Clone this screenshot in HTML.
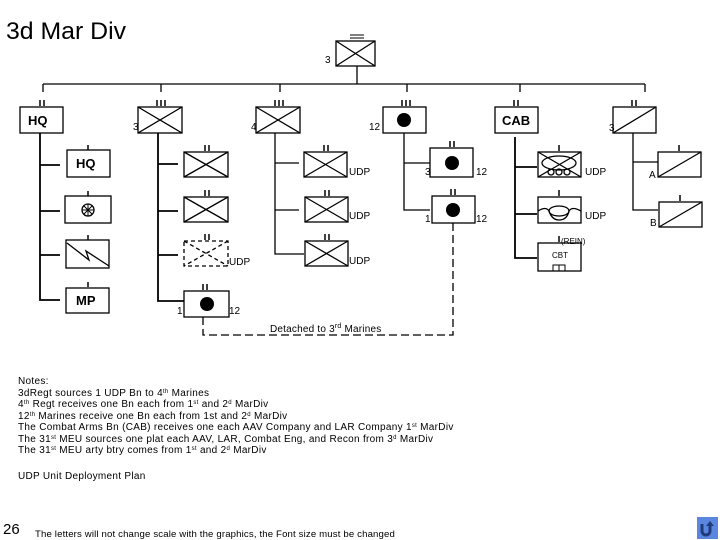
<!DOCTYPE html>
<html><head><style>
html,body{margin:0;padding:0;background:#fff;}
svg{display:block;font-family:"Liberation Sans",sans-serif;}
</style></head><body>
<svg width="720" height="540" viewBox="0 0 720 540" xmlns="http://www.w3.org/2000/svg">
<text x="6" y="39" font-size="24" textLength="120" lengthAdjust="spacingAndGlyphs">3d Mar Div</text>
<g stroke="#000" fill="none" stroke-width="1.3">
<rect x="336" y="41" width="39" height="25"/><path d="M336 41L375 66M375 41L336 66"/>
<path d="M350 35h14M350 38h14" stroke-width="1"/>
<path d="M357 66V84M43 84H645M43 84v8M161 84v8M280 84v8M407 84v8M520 84v8M645 84v8"/>
<rect x="20" y="107" width="43" height="26"/>
<rect x="138" y="107" width="44" height="26"/><path d="M138 107L182 133M182 107L138 133"/>
<rect x="256" y="107" width="44" height="26"/><path d="M256 107L300 133M300 107L256 133"/>
<rect x="383" y="107" width="43" height="26"/>
<rect x="495" y="107" width="43" height="26"/>
<rect x="613" y="107" width="43" height="26"/><path d="M613 133L656 107"/>
<path d="M40 100v6M44 100v6 M157 100v6M161 100v6M165 100v6 M275 100v6M279 100v6M283 100v6 M402 100v6M406 100v6M410 100v6 M514 100v6M518 100v6 M632 100v6M636 100v6" stroke-width="1.5"/>
<path d="M40 133V300H60M40 165H60M40 211H60M40 255H60" stroke-width="1.8"/>
<rect x="67" y="150" width="43" height="27"/><rect x="65" y="196" width="46" height="27"/>
<rect x="66" y="240" width="43" height="28"/><rect x="66" y="288" width="43" height="25"/>
<path d="M88 145v5M88 191v5M88 235v5M88 282v5" stroke-width="1.5"/>
<path d="M67 243L89 260L86 251L109 266" />
<circle cx="88" cy="210" r="6"/><path d="M82 210h12M88 204v12M84 206l8 8M92 206l-8 8" stroke-width="1"/>
<path d="M158 133V301H184M158 164H178M158 211H178M158 255H178" stroke-width="1.8"/>
<rect x="184" y="152" width="44" height="25"/><path d="M184 152L228 177M228 152L184 177"/>
<rect x="184" y="197" width="44" height="25"/><path d="M184 197L228 222M228 197L184 222"/>
<rect x="184" y="241" width="44" height="25" stroke-dasharray="4 3"/><path d="M184 241L228 266M228 241L184 266" stroke-dasharray="4 3"/>
<rect x="184" y="291" width="45" height="26"/>
<path d="M205 145v6M209 145v6M205 190v6M209 190v6M205 234v6M209 234v6M203 284v6M207 284v6" stroke-width="1.5"/>
<path d="M275 133V254H304M275 163H299M275 210H299" stroke-width="1.3"/>
<rect x="304" y="152" width="43" height="25"/><path d="M304 152L347 177M347 152L304 177"/>
<rect x="305" y="197" width="43" height="25"/><path d="M305 197L348 222M348 197L305 222"/>
<rect x="305" y="241" width="43" height="25"/><path d="M305 241L348 266M348 241L305 266"/>
<path d="M324 145v6M328 145v6M325 190v6M329 190v6M325 234v6M329 234v6" stroke-width="1.5"/>
<path d="M404 133V210H430M404 163H430"/>
<rect x="430" y="148" width="43" height="29"/><rect x="432" y="196" width="43" height="27"/>
<path d="M450 141v6M454 141v6M451 189v6M455 189v6" stroke-width="1.5"/>
<path d="M453 223V335H203V317" stroke-dasharray="8 4"/>
<path d="M515 137V258H537M515 167H537M515 214H537" stroke-width="1.8"/>
<rect x="538" y="152" width="43" height="25"/><path d="M538 152L581 177M581 152L538 177"/>
<ellipse cx="559" cy="163" rx="17" ry="7"/>
<circle cx="551" cy="172" r="3"/><circle cx="559" cy="172" r="3"/><circle cx="567" cy="172" r="3"/>
<rect x="538" y="197" width="43" height="26"/>
<path d="M538 211Q546 206 549 211Q552 220 559 220Q567 220 569 211Q572 206 581 211"/>
<ellipse cx="559" cy="211" rx="10" ry="5"/>
<rect x="538" y="243" width="43" height="28"/>
<path d="M553 271v-6h12v6M559 265v6" stroke-width="1"/>
<path d="M559 145v6M559 190v6M559 236v6" stroke-width="1.5"/>
<path d="M633 133V210H658M633 162H658"/>
<rect x="658" y="152" width="43" height="25"/><path d="M658 177L701 152"/>
<rect x="659" y="202" width="43" height="25"/><path d="M659 227L702 202"/>
<path d="M679 145v6M680 195v6" stroke-width="1.5"/>
</g>
<g fill="#000">
<circle cx="404" cy="120" r="7"/><circle cx="452" cy="163" r="7"/><circle cx="453" cy="210" r="7"/><circle cx="207" cy="304" r="7"/>
</g>
<g font-size="10">
<text x="325" y="63">3</text>
<text x="133" y="130">3</text><text x="251" y="130">4</text><text x="369" y="130">12</text><text x="609" y="131">3</text>
<text x="349" y="175">UDP</text><text x="349" y="219">UDP</text><text x="349" y="264">UDP</text>
<text x="229" y="265">UDP</text>
<text x="425" y="175">3</text><text x="476" y="175">12</text><text x="425" y="222">1</text><text x="476" y="222">12</text>
<text x="177" y="314">1</text><text x="229" y="314">12</text>
<text x="585" y="175">UDP</text><text x="585" y="219">UDP</text>
<text x="649" y="178">A</text><text x="650" y="226">B</text>
<text x="270" y="332" letter-spacing="0.2">Detached to 3<tspan font-size="7" dy="-4">rd</tspan><tspan dy="4"> Marines</tspan></text>
</g>
<text x="561" y="244" font-size="8">(REIN)</text>
<text x="552" y="258" font-size="8">CBT</text>
<g font-size="13" font-weight="bold">
<text x="28" y="125">HQ</text><text x="76" y="168">HQ</text><text x="76" y="305">MP</text><text x="502" y="125">CAB</text>
</g>
<g font-size="10" letter-spacing="0.3">
<text x="18" y="384">Notes:</text>
<text x="18" y="396">3dRegt sources 1 UDP Bn to 4<tspan font-size="6" dy="-3">th</tspan><tspan dy="3"> Marines</tspan></text>
<text x="18" y="407">4<tspan font-size="6" dy="-3">th</tspan><tspan dy="3"> Regt receives one Bn each from 1</tspan><tspan font-size="6" dy="-3">st</tspan><tspan dy="3"> and 2</tspan><tspan font-size="6" dy="-3">d</tspan><tspan dy="3"> MarDiv</tspan></text>
<text x="18" y="419">12<tspan font-size="6" dy="-3">th</tspan><tspan dy="3"> Marines receive one Bn each from 1st and 2</tspan><tspan font-size="6" dy="-3">d</tspan><tspan dy="3"> MarDiv</tspan></text>
<text x="18" y="430">The Combat Arms Bn (CAB) receives one each AAV Company and LAR Company  1<tspan font-size="6" dy="-3">st</tspan><tspan dy="3"> MarDiv</tspan></text>
<text x="18" y="442">The 31<tspan font-size="6" dy="-3">st</tspan><tspan dy="3"> MEU sources one plat each AAV, LAR, Combat Eng, and Recon from 3</tspan><tspan font-size="6" dy="-3">d</tspan><tspan dy="3"> MarDiv</tspan></text>
<text x="18" y="453">The 31<tspan font-size="6" dy="-3">st</tspan><tspan dy="3"> MEU arty btry comes from 1</tspan><tspan font-size="6" dy="-3">st</tspan><tspan dy="3"> and 2</tspan><tspan font-size="6" dy="-3">d</tspan><tspan dy="3"> MarDiv</tspan></text>
<text x="18" y="479">UDP Unit Deployment Plan</text>
</g>
<text x="35" y="537" font-size="9.6" letter-spacing="0.15">The letters will not change scale with the graphics, the Font size must be changed</text>
<text x="3" y="534" font-size="15">26</text>
<rect x="697" y="517" width="21" height="22" fill="#5b86e0"/>
<path d="M702 524v7a4 4 0 0 0 8 0v-6" stroke="#1f3b7a" stroke-width="3" fill="none"/>
<path d="M706 526l4-5 4 5z" fill="#1f3b7a"/>
</svg>
</body></html>
